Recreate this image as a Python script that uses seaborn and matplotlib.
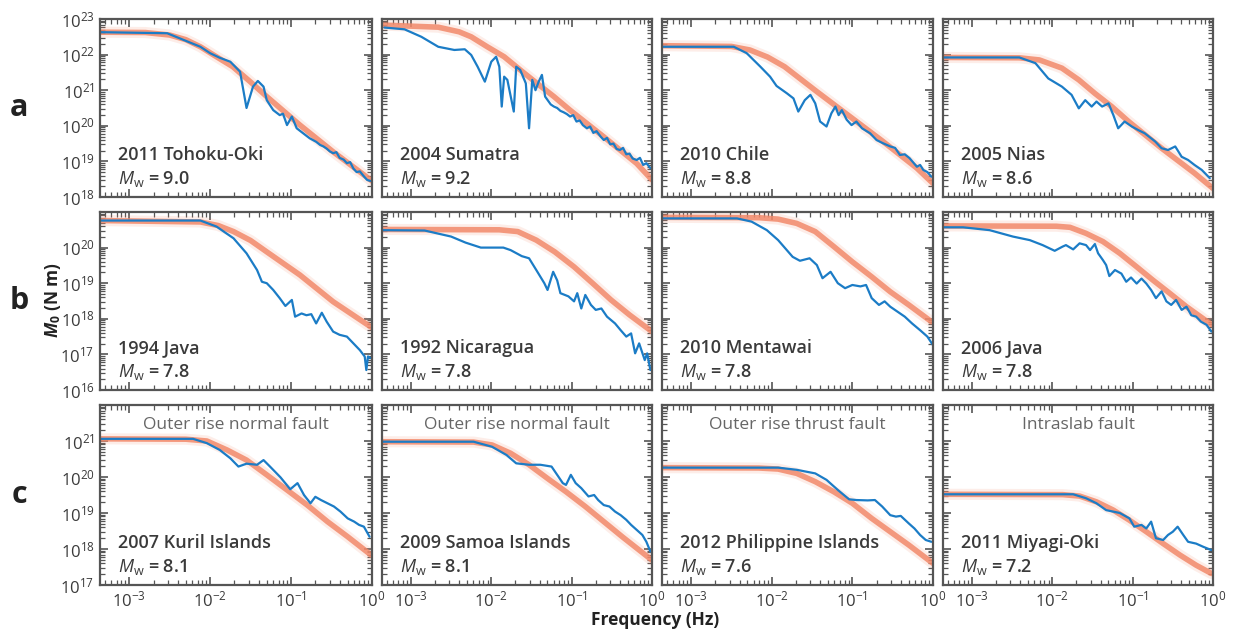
#!/usr/bin/env python3
# moment rate spectra, 12 panels (a: megathrust, b: tsunami eq., c: outer rise / intraslab)

import numpy as np
import pandas as pd
import matplotlib
matplotlib.use('Agg')
import matplotlib.pyplot as plt
import seaborn as sns
from matplotlib.ticker import FixedLocator, FixedFormatter, LogLocator, NullFormatter

# Data (log10 Hz, log10 N m) ===================================================

tohoku_f = [-3.36, -2.53, -2.12, -2.0, -1.88, -1.75, -1.63, -1.55, -1.47, -1.41, -1.34, -1.3,
            -1.22, -1.14, -1.1, -1.05, -0.99, -0.93, -0.85, -0.77, -0.69, -0.64, -0.6, -0.56,
            -0.52, -0.48, -0.44, -0.4, -0.35, -0.31, -0.27, -0.23, -0.19, -0.15, -0.1, -0.06, -0.02]
tohoku_m = [22.63, 22.6, 22.22, 22.04, 21.91, 21.8, 21.52, 20.5, 21.1, 21.26, 21.1, 20.72,
            20.44, 20.3, 20.34, 20.02, 20.26, 19.93, 19.79, 19.65, 19.55, 19.46, 19.42, 19.36,
            19.28, 19.23, 19.26, 19.1, 19.05, 18.95, 18.98, 18.8, 18.7, 18.72, 18.58, 18.48, 18.45]
tohoku_fit_f = [-3.36, -2.8, -2.5, -2.3, -2.12, -1.95, -1.72, -1.5, -1.3, -0.89, -0.48, 0.0]
tohoku_fit_m = [22.63, 22.62, 22.55, 22.42, 22.22, 21.98, 21.66, 21.23, 20.82, 20.02, 19.27, 18.45]

sumatra_f = [-3.33, -3.08, -2.87, -2.66, -2.46, -2.33, -2.25, -2.17, -2.08, -2.0, -1.94, -1.9,
             -1.87, -1.84, -1.8, -1.72, -1.69, -1.64, -1.57, -1.53, -1.49, -1.45, -1.41, -1.37,
             -1.33, -1.26, -1.22, -1.18, -1.14, -1.1, -1.06, -1.02, -0.98, -0.94, -0.9, -0.86,
             -0.81, -0.77, -0.73, -0.69, -0.64, -0.6, -0.56, -0.52, -0.48, -0.44, -0.4, -0.36,
             -0.32, -0.28, -0.24, -0.19, -0.15, -0.11, -0.07, -0.02]
sumatra_m = [22.76, 22.71, 22.5, 22.22, 22.13, 22.15, 21.99, 21.66, 21.24, 21.8, 21.94, 21.66,
             20.54, 21.38, 21.29, 20.4, 21.66, 21.57, 21.19, 19.93, 21.29, 21.0, 21.24, 21.43,
             20.82, 20.6, 20.54, 20.5, 20.42, 20.38, 20.33, 20.26, 20.3, 20.12, 20.15, 20.02,
             19.93, 19.98, 19.8, 19.85, 19.7, 19.6, 19.66, 19.48, 19.5, 19.35, 19.32, 19.38,
             19.2, 19.22, 19.08, 19.04, 19.1, 18.9, 18.95, 18.81]
sumatra_fit_f = [-3.36, -2.66, -2.4, -2.25, -2.05, -1.84, -1.64, -1.43, -1.22, -1.02, -0.6, -0.19, 0.0]
sumatra_fit_m = [22.83, 22.77, 22.64, 22.5, 22.22, 21.94, 21.57, 21.19, 20.82, 20.44, 19.69, 18.94, 18.48]

chile_f = [-3.36, -2.47, -2.31, -2.14, -2.02, -1.94, -1.81, -1.73, -1.67, -1.59, -1.52, -1.46,
           -1.4, -1.32, -1.26, -1.21, -1.17, -1.13, -1.07, -1.01, -0.95, -0.88, -0.78, -0.7,
           -0.62, -0.53, -0.47, -0.41, -0.35, -0.29, -0.2, -0.16, -0.12, -0.07, -0.02]
chile_m = [22.22, 22.22, 22.04, 21.66, 21.38, 21.12, 20.91, 20.77, 20.4, 20.72, 20.87, 20.63,
           20.12, 19.98, 20.35, 20.54, 20.3, 20.44, 20.17, 20.02, 20.12, 19.93, 19.79, 19.6,
           19.51, 19.42, 19.38, 19.18, 19.2, 19.09, 18.85, 18.9, 18.76, 18.7, 18.57]
chile_fit_f = [-3.36, -2.5, -2.27, -2.05, -1.84, -1.44, -1.03, -0.62, -0.2, 0.0]
chile_fit_m = [22.25, 22.23, 22.13, 21.93, 21.66, 20.96, 20.26, 19.56, 18.81, 18.38]

nias_f = [-3.36, -2.41, -2.21, -2.05, -1.88, -1.76, -1.67, -1.59, -1.51, -1.45, -1.38, -1.3,
          -1.24, -1.18, -1.1, -1.01, -0.93, -0.85, -0.72, -0.64, -0.56, -0.47, -0.39, -0.31,
          -0.23, -0.14, -0.04]
nias_m = [21.92, 21.92, 21.76, 21.33, 21.1, 20.87, 20.49, 20.72, 20.54, 20.68, 20.54, 20.63,
          20.3, 19.93, 20.12, 19.98, 19.88, 19.79, 19.56, 19.37, 19.32, 19.42, 19.13, 19.04,
          18.9, 18.76, 18.53]
nias_fit_f = [-3.36, -2.41, -2.16, -1.88, -1.67, -1.47, -1.26, -1.05, -0.64, -0.23, 0.0]
nias_fit_m = [21.92, 21.91, 21.85, 21.62, 21.29, 20.91, 20.54, 20.12, 19.37, 18.67, 18.24]

java94_f = [-3.36, -2.12, -1.92, -1.71, -1.55, -1.42, -1.36, -1.3, -1.22, -1.14, -1.07, -0.99,
            -0.95, -0.87, -0.81, -0.75, -0.69, -0.62, -0.56, -0.48, -0.4, -0.31, -0.23, -0.15,
            -0.09, -0.07, -0.05, -0.02]
java94_m = [20.76, 20.76, 20.59, 20.26, 19.84, 19.37, 19.04, 19.0, 18.81, 18.58, 18.36, 18.53,
            18.06, 18.15, 18.1, 18.13, 17.87, 18.17, 17.92, 17.64, 17.55, 17.5, 17.31, 17.12,
            16.94, 16.56, 16.94, 16.9]
java94_fit_f = [-3.36, -2.12, -1.9, -1.71, -1.5, -1.3, -0.89, -0.48, 0.0]
java94_fit_m = [20.76, 20.72, 20.62, 20.45, 20.2, 19.88, 19.23, 18.48, 17.75]

nicaragua_f = [-3.36, -2.83, -2.5, -2.32, -2.13, -1.85, -1.76, -1.62, -1.53, -1.44, -1.34, -1.3,
               -1.23, -1.18, -1.14, -1.04, -0.97, -0.93, -0.88, -0.83, -0.76, -0.7, -0.63, -0.56,
               -0.46, -0.39, -0.32, -0.26, -0.21, -0.16, -0.09, -0.06, -0.02]
nicaragua_m = [20.49, 20.48, 20.31, 20.14, 20.0, 20.0, 19.93, 19.76, 19.7, 19.37, 19.0, 18.81,
               19.32, 19.08, 18.72, 18.63, 18.49, 18.72, 18.29, 18.67, 18.39, 18.25, 18.29, 18.06,
               17.87, 17.68, 17.5, 17.59, 17.03, 17.31, 16.84, 17.03, 16.56]
nicaragua_fit_f = [-3.36, -1.9, -1.67, -1.44, -1.21, -0.97, -0.74, -0.51, -0.28, 0.0]
nicaragua_fit_m = [20.51, 20.5, 20.45, 20.21, 19.88, 19.46, 19.0, 18.53, 18.11, 17.64]

mentawai_f = [-3.36, -2.43, -2.25, -2.06, -1.92, -1.74, -1.65, -1.53, -1.44, -1.37, -1.27, -1.18,
              -1.09, -1.0, -0.9, -0.83, -0.76, -0.67, -0.6, -0.53, -0.44, -0.35, -0.26, -0.16,
              -0.07, 0.0]
mentawai_m = [20.82, 20.82, 20.73, 20.49, 20.21, 19.74, 19.63, 19.7, 19.51, 19.14, 19.32, 19.0,
              18.86, 18.95, 18.91, 18.95, 18.58, 18.39, 18.49, 18.34, 18.2, 18.06, 17.87, 17.68,
              17.5, 17.26]
mentawai_fit_f = [-3.36, -2.16, -1.92, -1.69, -1.46, -1.23, -1.0, -0.76, -0.53, -0.3, -0.02]
mentawai_fit_m = [20.85, 20.84, 20.8, 20.68, 20.45, 20.03, 19.6, 19.18, 18.76, 18.39, 17.92]

java06_f = [-3.36, -3.11, -2.78, -2.49, -2.28, -2.12, -1.97, -1.87, -1.83, -1.74, -1.66, -1.58,
            -1.53, -1.47, -1.43, -1.37, -1.33, -1.29, -1.22, -1.14, -1.08, -1.02, -0.95, -0.89,
            -0.83, -0.77, -0.71, -0.64, -0.58, -0.52, -0.46, -0.39, -0.33, -0.27, -0.21, -0.15,
            -0.08, -0.02]
java06_m = [20.57, 20.57, 20.49, 20.31, 20.21, 20.07, 19.91, 20.03, 20.07, 19.95, 20.12, 20.07,
            19.93, 20.1, 19.84, 19.65, 19.51, 19.2, 19.37, 19.27, 19.04, 19.16, 18.99, 19.13,
            18.99, 18.81, 18.58, 18.77, 18.49, 18.39, 18.53, 18.25, 18.34, 18.1, 18.06, 17.92,
            17.83, 17.64]
java06_fit_f = [-3.36, -1.95, -1.78, -1.58, -1.37, -1.16, -0.95, -0.75, -0.54, -0.33, -0.02]
java06_fit_m = [20.61, 20.6, 20.57, 20.4, 20.17, 19.84, 19.46, 19.09, 18.72, 18.34, 17.84]

kuril_f = [-3.36, -2.21, -2.04, -1.88, -1.75, -1.65, -1.55, -1.42, -1.34, -1.26, -1.13, -1.01,
           -0.92, -0.84, -0.76, -0.7, -0.63, -0.55, -0.47, -0.39, -0.3, -0.22, -0.16, -0.1, -0.03]
kuril_m = [21.06, 21.06, 20.94, 20.75, 20.52, 20.29, 20.37, 20.34, 20.47, 20.29, 19.99, 19.66,
           19.83, 19.5, 19.27, 19.45, 19.36, 19.27, 19.18, 19.04, 18.85, 18.76, 18.67, 18.62, 18.34]
kuril_fit_f = [-3.36, -2.3, -2.04, -1.79, -1.55, -1.3, -1.05, -0.8, -0.55, -0.3, -0.01]
kuril_fit_m = [21.06, 21.05, 21.0, 20.75, 20.47, 20.06, 19.64, 19.22, 18.76, 18.34, 17.83]

samoa_f = [-3.36, -2.22, -1.99, -1.81, -1.69, -1.53, -1.39, -1.25, -1.18, -1.11, -1.07, -1.01,
           -0.95, -0.88, -0.79, -0.72, -0.67, -0.6, -0.53, -0.46, -0.39, -0.32, -0.26, -0.19,
           -0.12, -0.07, -0.02]
samoa_m = [20.98, 20.98, 20.84, 20.61, 20.38, 20.34, 20.34, 20.29, 20.06, 19.83, 19.78, 20.06,
           19.83, 19.69, 19.46, 19.5, 19.36, 19.22, 19.18, 19.04, 18.94, 18.81, 18.67, 18.53,
           18.39, 18.2, 17.93]
samoa_fit_f = [-3.36, -2.22, -1.99, -1.76, -1.53, -1.3, -1.07, -0.83, -0.6, -0.37, 0.0]
samoa_fit_m = [20.98, 20.97, 20.89, 20.66, 20.34, 19.96, 19.59, 19.18, 18.76, 18.34, 17.69]

philippine_f = [-3.36, -1.92, -1.69, -1.46, -1.32, -1.18, -1.04, -0.95, -0.81, -0.72, -0.63,
                -0.53, -0.46, -0.4, -0.3, -0.23, -0.16, -0.09, -0.02]
philippine_m = [20.26, 20.26, 20.2, 20.1, 19.92, 19.64, 19.38, 19.36, 19.35, 19.36, 19.18,
                18.94, 18.9, 18.92, 18.71, 18.57, 18.39, 18.25, 18.2]
philippine_fit_f = [-3.36, -2.16, -1.92, -1.69, -1.46, -1.23, -1.0, -0.76, -0.53, -0.3, 0.0]
philippine_fit_m = [20.26, 20.25, 20.22, 20.1, 19.87, 19.59, 19.27, 18.85, 18.48, 18.11, 17.6]

miyagi_f = [-3.36, -1.74, -1.58, -1.45, -1.33, -1.16, -1.04, -0.98, -0.89, -0.83, -0.77, -0.71,
            -0.62, -0.56, -0.5, -0.44, -0.37, -0.31, -0.21, -0.12, -0.02]
miyagi_m = [19.52, 19.52, 19.41, 19.27, 19.08, 19.0, 18.85, 18.62, 18.67, 18.57, 18.76, 18.3,
            18.25, 18.39, 18.48, 18.62, 18.39, 18.2, 18.15, 18.06, 17.97]
miyagi_fit_f = [-3.36, -1.87, -1.66, -1.45, -1.24, -1.04, -0.83, -0.62, -0.41, -0.21, -0.02]
miyagi_fit_m = [19.52, 19.51, 19.47, 19.31, 19.08, 18.8, 18.48, 18.15, 17.83, 17.55, 17.32]

event_names = [
    ['2011 Tohoku-Oki', '2004 Sumatra', '2010 Chile', '2005 Nias'],
    ['1994 Java', '1992 Nicaragua', '2010 Mentawai', '2006 Java'],
    ['2007 Kuril Islands', '2009 Samoa Islands', '2012 Philippine Islands', '2011 Miyagi-Oki'],
]
magnitudes = [['9.0', '9.2', '8.8', '8.6'],
              ['7.8', '7.8', '7.8', '7.8'],
              ['8.1', '8.1', '7.6', '7.2']]
fault_types = ['Outer rise normal fault', 'Outer rise normal fault',
               'Outer rise thrust fault', 'Intraslab fault']
row_letters = ['a', 'b', 'c']
row_ylim_exp = [(18, 23), (16, 21), (17, 22)]
row_label_exp = [range(18, 24), range(16, 21), range(17, 22)]

spectra = [
    [(tohoku_f, tohoku_m, tohoku_fit_f, tohoku_fit_m),
     (sumatra_f, sumatra_m, sumatra_fit_f, sumatra_fit_m),
     (chile_f, chile_m, chile_fit_f, chile_fit_m),
     (nias_f, nias_m, nias_fit_f, nias_fit_m)],
    [(java94_f, java94_m, java94_fit_f, java94_fit_m),
     (nicaragua_f, nicaragua_m, nicaragua_fit_f, nicaragua_fit_m),
     (mentawai_f, mentawai_m, mentawai_fit_f, mentawai_fit_m),
     (java06_f, java06_m, java06_fit_f, java06_fit_m)],
    [(kuril_f, kuril_m, kuril_fit_f, kuril_fit_m),
     (samoa_f, samoa_m, samoa_fit_f, samoa_fit_m),
     (philippine_f, philippine_m, philippine_fit_f, philippine_fit_m),
     (miyagi_f, miyagi_m, miyagi_fit_f, miyagi_fit_m)],
]

# Plot =========================================================================

BLUE = '#1b7cc6'
ORANGE = '#f2896a'
FRAME = '#555555'
TEXT = '#3a3a3a'

sns.set_theme(style='ticks')
plt.rcParams['font.family'] = ['Open Sans', 'DejaVu Sans']
plt.rcParams['mathtext.fontset'] = 'custom'
plt.rcParams['mathtext.rm'] = 'Open Sans'
plt.rcParams['mathtext.it'] = 'Open Sans:italic'
plt.rcParams['mathtext.bf'] = 'Open Sans:bold'
plt.rcParams['mathtext.bfit'] = 'Open Sans:italic:bold'

fig = plt.figure(figsize=(12.34, 6.33), dpi=100)
W, H = 1234.0, 633.0
col_px = [(100, 372), (382, 652), (662, 933), (943, 1213)]
row_px = [(19, 197), (212, 390), (405, 585)]

xticks = [1e-3, 1e-2, 1e-1, 1e0]
xlabels = [r'$10^{-3}$', r'$10^{-2}$', r'$10^{-1}$', r'$10^{0}$']

for r in range(3):
    for c in range(4):
        x0, x1 = col_px[c]
        y0, y1 = row_px[r]
        ax = fig.add_axes([x0 / W, 1 - y1 / H, (x1 - x0) / W, (y1 - y0) / H])
        ax.set_xscale('log')
        ax.set_yscale('log')
        f, m, ff, fm = spectra[r][c]
        fit = pd.DataFrame({'f': 10.0 ** np.array(ff), 'm': 10.0 ** np.array(fm)})
        obs = pd.DataFrame({'f': 10.0 ** np.array(f), 'm': 10.0 ** np.array(m)})
        sns.lineplot(data=fit, x='f', y='m', ax=ax, color=ORANGE, lw=8, alpha=0.15,
                     estimator=None, sort=False)
        sns.lineplot(data=fit, x='f', y='m', ax=ax, color=ORANGE, lw=4, alpha=0.85,
                     estimator=None, sort=False)
        sns.lineplot(data=obs, x='f', y='m', ax=ax, color=BLUE, lw=1.6,
                     estimator=None, sort=False)

        ax.set_xlim(10 ** -3.36, 1.0)
        lo, hi = row_ylim_exp[r]
        ax.set_ylim(10.0 ** lo, 10.0 ** hi)
        ax.set_xlabel('')
        ax.set_ylabel('')

        ax.xaxis.set_major_locator(FixedLocator(xticks))
        ax.xaxis.set_minor_locator(LogLocator(base=10, subs=np.arange(2, 10), numticks=20))
        ax.yaxis.set_major_locator(FixedLocator([10.0 ** e for e in range(lo, hi + 1)]))
        ax.yaxis.set_minor_locator(LogLocator(base=10, subs=np.arange(2, 10), numticks=20))
        ax.xaxis.set_minor_formatter(NullFormatter())
        ax.yaxis.set_minor_formatter(NullFormatter())
        if r == 2:
            ax.xaxis.set_major_formatter(FixedFormatter(xlabels))
        else:
            ax.xaxis.set_major_formatter(NullFormatter())
        if c == 0:
            labs = [r'$10^{%d}$' % e if e in row_label_exp[r] else ''
                    for e in range(lo, hi + 1)]
            ax.yaxis.set_major_formatter(FixedFormatter(labs))
        else:
            ax.yaxis.set_major_formatter(NullFormatter())

        ax.tick_params(which='both', direction='in', top=True, right=True,
                       color=FRAME, labelcolor=TEXT, labelsize=12, pad=4)
        ax.tick_params(which='major', length=6, width=1.2)
        ax.tick_params(which='minor', length=3.5, width=0.9)
        for s in ax.spines.values():
            s.set_color(FRAME)
            s.set_linewidth(1.6)

        ax.text(0.066, 0.235, event_names[r][c], transform=ax.transAxes,
                fontsize=13, fontweight='semibold', color=TEXT, va='center')
        ax.text(0.066, 0.1, r'$M_\mathrm{w}$ = ' + magnitudes[r][c],
                transform=ax.transAxes, fontsize=13, fontweight='semibold',
                color=TEXT, va='center')
        if r == 2:
            ax.text(0.5, 0.89, fault_types[c], transform=ax.transAxes,
                    fontsize=12.5, color='#666666', ha='center', va='center')

for r, letter in enumerate(row_letters):
    y0, y1 = row_px[r]
    fig.text(19 / W, 1 - (y0 + y1) / 2 / H, letter, fontsize=22, fontweight='bold',
             color='#222222', ha='center', va='center')

fig.text(53 / W, 1 - 300 / H, r'$\mathbfit{M}_\mathbf{0}$ (N m)', rotation=90,
         fontsize=12.5, fontweight='bold', color='#222222', ha='center', va='center')
fig.text(655 / W, 1 - 620 / H, 'Frequency (Hz)', fontsize=12.5, fontweight='bold',
         color='#222222', ha='center', va='center')

fig.savefig('out.png', dpi=100, facecolor='white')
